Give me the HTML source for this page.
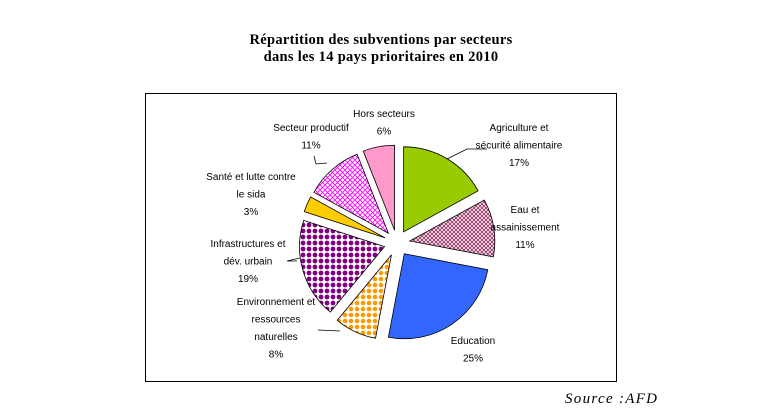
<!DOCTYPE html>
<html><head><meta charset="utf-8">
<style>
html,body{margin:0;padding:0;background:#fff;}
body{width:762px;height:416px;position:relative;overflow:hidden;font-family:"Liberation Sans",sans-serif;}
.title{position:absolute;left:0;width:762px;text-align:center;font-family:"Liberation Serif",serif;font-weight:bold;font-size:14.5px;line-height:17px;}
</style></head>
<body>
<div class="title" style="top:32px;letter-spacing:0.3px;">Répartition des subventions par secteurs<br>dans les 14 pays prioritaires en 2010</div>
<svg width="762" height="416" style="position:absolute;left:0;top:0">
<defs>
<pattern id="pEau" width="4" height="4" patternUnits="userSpaceOnUse"><rect width="4" height="4" fill="#993366"/><path d="M0 0L4 4M4 0L0 4" stroke="#fff" stroke-width="0.7"/></pattern>
<pattern id="pEnv" width="6" height="6" patternUnits="userSpaceOnUse"><rect width="6" height="6" fill="#fff"/><circle cx="3" cy="3" r="2.3" fill="#ff9900"/></pattern>
<pattern id="pInfra" width="6" height="6" patternUnits="userSpaceOnUse"><rect width="6" height="6" fill="#fff"/><circle cx="3" cy="3" r="2.4" fill="#800080"/></pattern>
<pattern id="pProd" width="5" height="5" patternUnits="userSpaceOnUse"><rect width="5" height="5" fill="#fff"/><path d="M0 0L5 5M5 0L0 5" stroke="#ff00ff" stroke-width="0.9"/></pattern>
</defs>
<rect x="145.5" y="93.5" width="471" height="288" fill="none" stroke="#000" stroke-width="1"/>
<g id="slices"></g>
<g id="labels" font-size="10" fill="#000"></g>
</svg>
<div style="position:absolute;left:565px;top:391px;font-family:'Liberation Serif',serif;font-style:italic;font-size:15px;letter-spacing:1.3px;">Source :AFD</div>
<script>
const categories=["Agriculture et sécurité alimentaire","Eau et assainissement","Education","Environnement et ressources naturelles","Infrastructures et dév. urbain","Santé et lutte contre le sida","Secteur productif","Hors secteurs"];
const values=[17,11,25,8,19,3,11,6];
const fills=["#99cc00","url(#pEau)","#3366ff","url(#pEnv)","url(#pInfra)","#ffcc00","url(#pProd)","#ff99cc"];
const labelLines=[["Agriculture et","sécurité alimentaire","17%"],["Eau et","assainissement","11%"],["Education","25%"],["Environnement et","ressources","naturelles","8%"],["Infrastructures et","dév. urbain","19%"],["Santé et lutte contre","le sida","3%"],["Secteur productif","11%"],["Hors secteurs","6%"]];
const labelPos=[[519,131],[525,213],[473,344],[276,305],[248,247],[251,180],[311,131],[384,117]];
const leaders=[[[447,159],[467,149],[487,149]],null,null,[[340,331],[318,330]],[[300,258],[287,261],[297,261]],null,[[327,163],[316,164],[314,156]],null];
const cx=397,cy=243,r=85,ex=13;
const total=values.reduce((a,b)=>a+b,0);
const gS=document.getElementById('slices'),gL=document.getElementById('labels');
const NS="http://www.w3.org/2000/svg";
let acc=0;
values.forEach((v,i)=>{
  const a0=acc/total*2*Math.PI, a1=(acc+v)/total*2*Math.PI; acc+=v;
  const am=(a0+a1)/2;
  const ox=cx+ex*Math.sin(am), oy=cy-ex*Math.cos(am);
  const x0=ox+r*Math.sin(a0),y0=oy-r*Math.cos(a0),x1=ox+r*Math.sin(a1),y1=oy-r*Math.cos(a1);
  const p=document.createElementNS(NS,'path');
  p.setAttribute('d',`M${ox},${oy}L${x0},${y0}A${r},${r} 0 ${(a1-a0)>Math.PI?1:0} 1 ${x1},${y1}Z`);
  p.setAttribute('fill',fills[i]);p.setAttribute('stroke','#000');p.setAttribute('stroke-width','0.8');
  
  
  gS.appendChild(p);
});
labelLines.forEach((lines,i)=>{
  const t=document.createElementNS(NS,'text');
  t.setAttribute('text-anchor','middle');
  
  
  lines.forEach((s,k)=>{const ts=document.createElementNS(NS,'tspan');ts.setAttribute('x',labelPos[i][0]);ts.setAttribute('y',labelPos[i][1]+k*17.5);ts.textContent=s;t.appendChild(ts);});
  gL.appendChild(t);
  if(leaders[i]){const pl=document.createElementNS(NS,'polyline');pl.setAttribute('points',leaders[i].map(p=>p.join(',')).join(' '));pl.setAttribute('fill','none');pl.setAttribute('stroke','#000');pl.setAttribute('stroke-width','0.8');
  
  
  gL.appendChild(pl);}
});
</script>
</body></html>
